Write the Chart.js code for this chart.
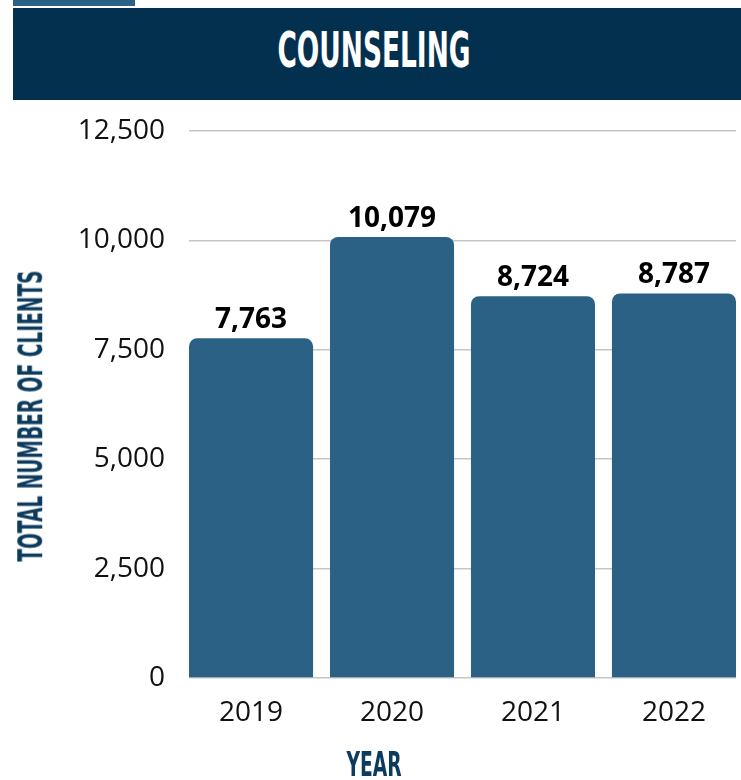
<!DOCTYPE html>
<html>
<head>
<meta charset="utf-8">
<script src="https://cdn.jsdelivr.net/npm/chart.js@4/dist/chart.umd.min.js"></script>
<style>
  html, body { margin: 0; padding: 0; background: #fff; }
  .wrap { position: relative; width: 741px; height: 780px; overflow: hidden; }
  #chart { position: absolute; left: 0; top: 0; }
  .tab { position: absolute; left: 13px; top: 0; width: 122px; height: 6px; background: #2b6185; }
  .banner { position: absolute; left: 13px; top: 8px; width: 728px; height: 92px; background: #03304f; }
  .cond {
    position: absolute; white-space: nowrap;
    font-family: 'DejaVu Sans Condensed', 'DejaVu Sans', sans-serif; font-weight: bold;
    line-height: 1;
  }
  .title { color: #fff; font-size: 49px; }
  .axis-title { color: #0d3b5e; font-size: 34px; }
</style>
</head>
<body>
<div class="wrap">
  <canvas id="chart" width="741" height="780"></canvas>
  <div class="tab"></div>
  <div class="banner"></div>
  <span class="cond title" id="title">COUNSELING</span>
  <span class="cond axis-title" id="ytitle">TOTAL NUMBER OF CLIENTS</span>
  <span class="cond axis-title" id="xtitle">YEAR</span>
</div>
<script>
const years = ['2019', '2020', '2021', '2022'];
const clients = [7763, 10079, 8724, 8787];
const yTicks = [0, 2500, 5000, 7500, 10000, 12500];

// squeeze the condensed titles to the width of the original lettering
function placeText(id, cx, cy, width, rotate) {
    const el = document.getElementById(id);
    const w = el.offsetWidth, h = el.offsetHeight;
    const sx = width / w;
    el.style.left = (cx - w / 2) + 'px';
    el.style.top = (cy - h / 2) + 'px';
    el.style.transform = (rotate ? 'rotate(-90deg) ' : '') + 'scaleX(' + sx + ')';
}
placeText('title', 373.5, 50, 193, false);
placeText('ytitle', 30, 416, 291, true);
placeText('xtitle', 373.5, 764, 55, false);

// value labels above the bars
const barLabels = {
    id: 'barLabels',
    afterDatasetsDraw(chart) {
        const ctx = chart.ctx;
        ctx.save();
        ctx.font = "bold 28px 'Open Sans'";
        ctx.fillStyle = '#000';
        ctx.textAlign = 'center';
        ctx.textBaseline = 'alphabetic';
        chart.getDatasetMeta(0).data.forEach((bar, i) => {
            ctx.fillText(clients[i].toLocaleString('en-US'), bar.x, bar.y - 10);
        });
        ctx.restore();
    }
};

new Chart(document.getElementById('chart'), {
    type: 'bar',
    data: {
        datasets: [{
            data: clients.map((v, i) => ({ x: i, y: v })),
            backgroundColor: '#2b6185',
            borderRadius: 8,
            borderSkipped: 'start',
            barPercentage: 0.88,
            categoryPercentage: 1
        }]
    },
    options: {
        responsive: false,
        animation: false,
        layout: { padding: { top: 131, right: 5, left: 0, bottom: 0 } },
        plugins: { legend: { display: false }, tooltip: { enabled: false } },
        scales: {
            x: {
                type: 'linear',
                offset: false,
                min: -0.44,
                max: 3.44,
                grid: { display: false, offset: false },
                border: { display: false },
                afterFit: (s) => { s.height = 102; },
                afterBuildTicks: (s) => { s.ticks = years.map((y, i) => ({ value: i })); },
                ticks: {
                    color: '#111',
                    font: { family: "'Open Sans'", size: 28 },
                    padding: 10,
                    callback: (v) => years[v]
                }
            },
            y: {
                min: 0,
                max: 12500,
                afterFit: (s) => { s.width = 189; },
                afterBuildTicks: (s) => { s.ticks = yTicks.map(v => ({ value: v })); },
                grid: { color: '#c6c6c6', lineWidth: 1.5, drawTicks: false },
                border: { display: false },
                ticks: {
                    color: '#111',
                    font: { family: "'Open Sans'", size: 28 },
                    padding: 24,
                    callback: (v) => v.toLocaleString('en-US')
                }
            }
        }
    },
    plugins: [barLabels]
});
</script>
</body>
</html>
